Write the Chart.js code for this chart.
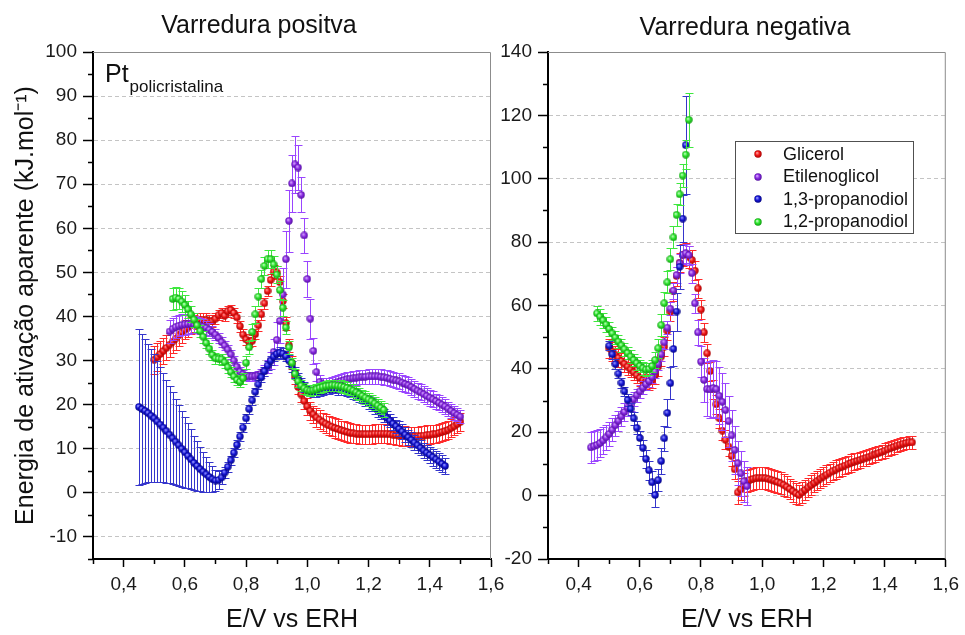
<!DOCTYPE html>
<html lang="pt">
<head>
<meta charset="utf-8">
<title>Energia de ativação aparente - Pt policristalina</title>
<script src="https://cdn.jsdelivr.net/npm/chart.js@4.4.1/dist/chart.umd.min.js"></script>
<style>
  html, body { margin: 0; padding: 0; background: #fff; }
  #wrap { position: relative; width: 965px; height: 635px; }
  #wrap canvas { position: absolute; left: 0; top: 0; }
</style>
</head>
<body>
<div id="wrap">
  <canvas id="positiva" width="965" height="635"></canvas>
  <canvas id="negativa" width="965" height="635"></canvas>
</div>
<script>
// Potential grid (E/V vs ERH), 10 mV steps
const potentials = [
  0.44, 0.45, 0.46, 0.47, 0.48, 0.49,
  0.50, 0.51, 0.52, 0.53, 0.54, 0.55, 0.56, 0.57, 0.58, 0.59,
  0.60, 0.61, 0.62, 0.63, 0.64, 0.65, 0.66, 0.67, 0.68, 0.69,
  0.70, 0.71, 0.72, 0.73, 0.74, 0.75, 0.76, 0.77, 0.78, 0.79,
  0.80, 0.81, 0.82, 0.83, 0.84, 0.85, 0.86, 0.87, 0.88, 0.89,
  0.90, 0.91, 0.92, 0.93, 0.94, 0.95, 0.96, 0.97, 0.98, 0.99,
  1.00, 1.01, 1.02, 1.03, 1.04, 1.05, 1.06, 1.07, 1.08, 1.09,
  1.10, 1.11, 1.12, 1.13, 1.14, 1.15, 1.16, 1.17, 1.18, 1.19,
  1.20, 1.21, 1.22, 1.23, 1.24, 1.25, 1.26, 1.27, 1.28, 1.29,
  1.30, 1.31, 1.32, 1.33, 1.34, 1.35, 1.36, 1.37, 1.38, 1.39,
  1.40, 1.41, 1.42, 1.43, 1.44, 1.45, 1.46, 1.47, 1.48, 1.49,
  1.50
];

const seriesLabels = ['Glicerol', 'Etilenoglicol', '1,3-propanodiol', '1,2-propanodiol'];

// ---- Varredura positiva (kJ/mol) ----
const posGlicerolStart = 0.50;
const posGlicerol = [
  30.2, 30.8, 31.5, 32.2, 32.9, 33.6, 34.3, 35.0, 35.7, 36.4,
  37.0, 37.5, 38.0, 38.5, 38.9, 39.2, 39.3, 39.2, 38.9, 39.0,
  39.5, 40.3, 40.8, 40.2, 41.2, 41.5, 40.8, 39.8, 37.8, 35.9,
  34.8, 34.2, 34.5, 36.0, 38.0, 40.5, 43.0, 45.8, 48.3, 50.2,
  50.0, 47.8, 43.5, 38.5, 33.5, 29.5, 26.3, 24.0, 22.3, 20.8,
  19.6, 18.6, 17.8, 17.1, 16.6, 16.1, 15.7, 15.3, 15.0, 14.7,
  14.5, 14.2, 14.0, 13.8, 13.6, 13.5, 13.4, 13.3, 13.3, 13.3,
  13.3, 13.3, 13.4, 13.4, 13.4, 13.4, 13.4, 13.3, 13.2, 13.1,
  13.0, 12.9, 12.9, 12.8, 12.8, 12.8, 12.8, 12.9, 13.0, 13.1,
  13.2, 13.3, 13.4, 13.6, 13.8, 14.0, 14.3, 14.7, 15.1, 15.6,
  16.1
];
const posGlicerolErr = [
  3.2, 3.1, 3.0, 2.9, 2.8, 2.7, 2.6, 2.5, 2.4, 2.3,
  2.2, 2.1, 2.0, 1.9, 1.8, 1.7, 1.6, 1.5, 1.4, 1.3,
  1.2, 1.2, 1.2, 1.2, 1.2, 1.2, 1.2, 1.2, 1.2, 1.2,
  1.2, 1.2, 1.2, 1.2, 1.2, 1.2, 1.2, 1.2, 1.3, 1.5,
  1.5, 1.5, 1.5, 1.5, 1.5, 1.5, 1.5, 1.6, 1.7, 1.8,
  1.9, 2.0, 2.0, 2.1, 2.1, 2.1, 2.2, 2.2, 2.2, 2.2,
  2.2, 2.2, 2.2, 2.2, 2.2, 2.2, 2.2, 2.2, 2.2, 2.2,
  2.2, 2.2, 2.2, 2.2, 2.2, 2.2, 2.2, 2.2, 2.2, 2.2,
  2.2, 2.2, 2.2, 2.2, 2.2, 2.2, 2.2, 2.2, 2.2, 2.2,
  2.1, 2.1, 2.1, 2.1, 2.0, 2.0, 2.0, 2.0, 2.0, 2.0,
  2.0
];

const posEtilenoglicolStart = 0.55;
const posEtilenoglicol = [
  36.6, 37.2, 37.6, 37.9, 38.1,
  38.2, 38.3, 38.3, 38.2, 38.1, 37.9, 37.7, 37.4, 37.0, 36.5,
  35.9, 35.1, 34.2, 33.4, 32.5, 31.4, 30.0, 28.6, 27.5, 26.9,
  26.5, 26.4, 26.4, 26.5, 26.7, 27.1, 27.7, 28.6, 30.0, 32.0,
  34.7, 39.0, 45.0, 53.0, 61.7, 70.2, 74.5, 73.8, 67.6, 58.4,
  48.5, 39.5, 32.2, 27.4, 25.2, 24.6, 24.5, 24.6, 24.8, 25.0,
  25.2, 25.4, 25.6, 25.8, 25.9, 26.0, 26.1, 26.2, 26.3, 26.3,
  26.4, 26.4, 26.4, 26.4, 26.3, 26.2, 26.1, 25.9, 25.7, 25.5,
  25.3, 25.0, 24.7, 24.4, 24.0, 23.6, 23.2, 22.8, 22.4, 22.0,
  21.6, 21.2, 20.8, 20.4, 20.0, 19.6, 19.1, 18.6, 18.1, 17.7,
  17.3
];
const posEtilenoglicolErr = [
  2.5, 2.5, 2.5, 2.4, 2.4,
  2.3, 2.2, 2.1, 2.0, 1.9, 1.8, 1.7, 1.6, 1.5, 1.4,
  1.3, 1.2, 1.1, 1.0, 1.0, 1.0, 1.0, 1.0, 1.0, 1.0,
  1.0, 1.0, 1.0, 1.0, 1.0, 1.0, 1.2, 1.5, 2.0, 3.0,
  4.0, 5.0, 6.0, 6.5, 7.0, 6.5, 6.5, 5.0, 4.0, 4.0,
  4.0, 4.5, 3.0, 2.0, 1.5, 1.5, 1.5, 1.5, 1.5, 1.5,
  1.6, 1.6, 1.6, 1.6, 1.6, 1.6, 1.6, 1.6, 1.6, 1.6,
  1.7, 1.7, 1.7, 1.7, 1.7, 1.7, 1.7, 1.7, 1.7, 1.7,
  1.8, 1.8, 1.8, 1.8, 1.8, 1.8, 1.8, 1.8, 1.8, 1.8,
  1.8, 1.8, 1.7, 1.7, 1.7, 1.6, 1.6, 1.6, 1.5, 1.5,
  1.5
];

const posPropanodiol13Start = 0.45;
const posPropanodiol13 = [
  19.5, 19.0, 18.6, 18.1, 17.5,
  16.9, 16.2, 15.5, 14.8, 14.0, 13.2, 12.4, 11.6, 10.8, 10.0,
  9.2, 8.4, 7.6, 6.8, 6.1, 5.4, 4.8, 4.2, 3.6, 3.1,
  2.8, 2.9, 3.5, 4.6, 5.9, 7.4, 9.1, 10.9, 12.8, 14.8,
  16.9, 19.0, 21.0, 22.9, 24.6, 26.2, 27.6, 28.9, 30.0, 30.9,
  31.5, 31.8, 31.6, 31.0, 30.0, 28.7, 27.3, 26.0, 24.9, 24.0,
  23.3, 22.9, 22.8, 22.8, 23.0, 23.2, 23.4, 23.5, 23.6, 23.6,
  23.5, 23.4, 23.3, 23.1, 22.9, 22.6, 22.3, 21.9, 21.5, 21.0,
  20.5, 20.0, 19.4, 18.8, 18.2, 17.6, 17.0, 16.4, 15.7, 15.1,
  14.5, 13.9, 13.2, 12.6, 12.0, 11.4, 10.8, 10.2, 9.6, 9.1,
  8.6, 8.1, 7.6, 7.1, 6.6, 6.1
];
const posPropanodiol13Err = [
  17.7, 17.0, 16.4, 15.7, 15.1,
  14.5, 13.8, 13.1, 12.4, 11.7, 11.0, 10.4, 9.8, 9.2, 8.6,
  8.0, 7.4, 6.8, 6.2, 5.6, 5.0, 4.5, 4.0, 3.5, 2.9,
  2.4, 2.0, 1.6, 1.3, 1.1, 1.0, 1.0, 1.0, 1.0, 1.0,
  1.0, 1.0, 1.0, 1.0, 1.0, 1.0, 1.0, 1.0, 1.0, 1.0,
  1.2, 1.2, 1.2, 1.2, 1.2, 1.2, 1.2, 1.2, 1.2, 1.2,
  1.0, 1.0, 1.0, 1.0, 1.0, 1.0, 1.0, 1.0, 1.0, 1.0,
  1.2, 1.2, 1.2, 1.2, 1.2, 1.2, 1.2, 1.2, 1.2, 1.2,
  1.5, 1.5, 1.5, 1.5, 1.5, 1.5, 1.5, 1.5, 1.5, 1.5,
  1.7, 1.7, 1.7, 1.7, 1.7, 1.7, 1.7, 1.7, 1.7, 1.7,
  1.9, 1.9, 1.9, 1.9, 1.9, 1.9
];

const posPropanodiol12Start = 0.56;
const posPropanodiol12 = [
  44.0, 44.3, 44.0, 43.4,
  42.6, 41.6, 40.5, 39.3, 38.0, 36.7, 35.4, 34.0, 32.7, 31.3,
  30.5, 30.4, 30.3, 29.6, 28.5, 27.4, 26.4, 25.6, 25.2, 26.0,
  29.5, 33.0, 36.5, 40.5, 44.5, 48.5, 51.5, 53.0, 53.0, 51.8,
  49.5, 46.0, 42.0, 37.5, 33.0, 29.5, 27.0, 25.3, 24.3, 23.7,
  23.3, 23.2, 23.3, 23.5, 23.8, 24.0, 24.2, 24.3, 24.4, 24.4,
  24.3, 24.2, 24.0, 23.8, 23.5, 23.2, 22.8, 22.4, 22.0, 21.6,
  21.2, 20.8, 20.3, 19.8, 19.3, 18.8
];
const posPropanodiol12Err = [
  2.5, 2.5, 2.4, 2.3,
  2.2, 2.0, 1.8, 1.6, 1.5, 1.4, 1.3, 1.2, 1.2, 1.2,
  1.2, 1.2, 1.2, 1.2, 1.2, 1.2, 1.2, 1.2, 1.2, 1.2,
  1.5, 1.5, 1.8, 2.0, 2.0, 2.0, 2.0, 2.0, 2.0, 2.0,
  2.0, 2.0, 1.8, 1.5, 1.5, 1.2, 1.2, 1.2, 1.2, 1.2,
  1.2, 1.2, 1.2, 1.2, 1.2, 1.2, 1.2, 1.2, 1.2, 1.2,
  1.3, 1.3, 1.3, 1.3, 1.3, 1.4, 1.4, 1.4, 1.4, 1.4,
  1.5, 1.5, 1.5, 1.5, 1.5, 1.5
];

// ---- Varredura negativa (kJ/mol) ----
const negGlicerolStart = 0.50;
const negGlicerol = [
  46.5, 45.5, 44.5, 43.5, 42.5, 41.6, 40.7, 39.8, 38.9, 38.0,
  37.1, 36.4, 36.0, 35.9, 36.4, 38.0, 40.7, 43.9, 47.0, 52.0,
  58.0, 64.5, 69.3, 73.5, 76.0, 76.3, 75.4, 74.4, 71.0, 65.4,
  58.7, 51.5, 44.9, 39.3, 33.5, 28.8, 24.4, 20.5, 17.6, 15.5,
  12.5, 8.3, 1.0, 2.0, 3.5, 4.5, 5.0, 5.3, 5.5, 5.6,
  5.6, 5.5, 5.3, 5.0, 4.7, 4.3, 3.9, 3.4, 2.8, 2.1,
  1.4, 0.7, 0.2, 1.0, 1.8, 2.6, 3.3, 4.0, 4.7, 5.4,
  6.0, 6.6, 7.2, 7.7, 8.2, 8.7, 9.1, 9.5, 9.9, 10.3,
  10.7, 11.0, 11.3, 11.7, 12.0, 12.3, 12.7, 13.0, 13.4, 13.8,
  14.2, 14.6, 15.0, 15.4, 15.8, 16.1, 16.4, 16.6, 16.8, 16.8
];
const negGlicerolErr = [
  3.0, 3.0, 2.8, 2.8, 2.6, 2.6, 2.5, 2.5, 2.5, 2.5,
  2.5, 2.5, 2.5, 2.5, 2.5, 2.8, 3.0, 3.0, 3.0, 3.0,
  3.0, 3.0, 3.0, 3.0, 3.5, 3.5, 3.5, 3.0, 3.0, 3.0,
  3.0, 3.0, 3.0, 3.0, 3.0, 3.0, 3.0, 3.0, 3.0, 3.0,
  3.0, 3.0, 3.5, 3.5, 3.5, 3.5, 3.5, 3.5, 3.5, 3.5,
  3.5, 3.5, 3.5, 3.5, 3.5, 3.4, 3.4, 3.4, 3.3, 3.3,
  3.3, 3.2, 3.2, 3.2, 3.1, 3.1, 3.1, 3.0, 3.0, 3.0,
  3.0, 3.0, 2.9, 2.9, 2.9, 2.8, 2.8, 2.8, 2.7, 2.7,
  2.6, 2.6, 2.5, 2.5, 2.5, 2.4, 2.4, 2.4, 2.3, 2.3,
  2.3, 2.2, 2.2, 2.2, 2.1, 2.1, 2.1, 2.0, 2.0, 2.0
];

const negEtilenoglicolStart = 0.44;
const negEtilenoglicol = [
  15.2, 15.6, 16.0, 16.6, 17.4, 18.4,
  19.5, 20.8, 22.2, 23.6, 25.0, 26.4, 27.8, 29.1, 30.4, 31.7,
  32.9, 34.1, 35.2, 36.2, 37.4, 39.2, 41.6, 44.6, 48.4, 53.0,
  59.0, 64.7, 69.6, 73.3, 76.0, 76.5, 75.9, 70.2, 60.7, 51.5,
  42.3, 36.5, 33.6, 33.5, 33.9, 33.6, 31.5, 29.6, 27.0, 23.5,
  19.0, 14.4, 10.2, 7.0, 4.5, 3.0
];
const negEtilenoglicolErr = [
  5.0, 4.8, 4.6, 4.4, 4.2, 4.0,
  3.8, 3.6, 3.4, 3.2, 3.0, 2.8, 2.6, 2.4, 2.2, 2.0,
  2.0, 2.0, 2.0, 2.0, 2.0, 2.0, 2.0, 2.0, 2.0, 2.0,
  2.0, 2.5, 2.5, 3.0, 3.0, 3.0, 3.0, 3.0, 3.0, 4.0,
  5.0, 7.0, 8.5, 9.0, 9.0, 9.0, 9.0, 9.0, 8.5, 8.0,
  8.0, 7.5, 7.0, 7.0, 6.5, 6.0
];

const negPropanodiol13Start = 0.50;
const negPropanodiol13 = [
  47.3, 44.6, 41.5, 38.5, 35.6, 32.9, 30.2, 27.4, 24.4, 21.4,
  18.2, 15.1, 11.6, 8.0, 4.2, 0.2, 4.9, 10.9, 18.1, 26.1,
  35.5, 46.3, 58.1, 72.2, 87.4, 110.6
];
const negPropanodiol13Err = [
  1.5, 1.5, 1.5, 1.5, 1.5, 1.5, 1.8, 1.8, 2.0, 2.0,
  2.2, 2.5, 2.8, 3.0, 3.5, 3.8, 3.5, 4.0, 4.0, 4.5,
  5.0, 5.5, 6.0, 7.0, 7.5, 15.5
];

const negPropanodiol12Start = 0.46;
const negPropanodiol12 = [
  57.5, 56.5, 55.3, 54.0, 52.6, 51.2, 49.9, 48.6, 47.4, 46.2,
  45.0, 43.9, 42.8, 41.8, 40.9, 40.2, 39.8, 40.0, 40.9, 42.8,
  46.5, 53.8, 60.7, 67.3, 74.6, 81.5, 88.6, 95.1, 101.0, 107.6,
  118.6
];
const negPropanodiol12Err = [
  2.5, 2.5, 2.4, 2.3, 2.2, 2.1, 2.0, 2.0, 2.0, 2.0,
  2.0, 2.0, 2.0, 2.0, 2.0, 2.0, 2.0, 2.0, 2.0, 2.5,
  3.0, 3.5, 3.5, 3.5, 3.5, 3.5, 3.5, 3.5, 3.7, 4.5,
  8.6
];

// ---- styles ----
const FONT = "'Liberation Sans', Arial, Helvetica, sans-serif";
Chart.defaults.font.family = FONT;
Chart.defaults.color = '#1a1a1a';

// small shaded balls used as point markers
function makeBall(light, base, dark) {
  const c = document.createElement('canvas');
  c.width = 8;
  c.height = 8;
  const g = c.getContext('2d');
  const grad = g.createRadialGradient(3, 2.8, 0.3, 4, 4, 4);
  grad.addColorStop(0, light);
  grad.addColorStop(0.45, base);
  grad.addColorStop(1, dark);
  g.fillStyle = grad;
  g.beginPath();
  g.arc(4, 4, 3.7, 0, Math.PI * 2);
  g.fill();
  return c;
}

const styles = [
  { ball: makeBall('#ff9a9a', '#f21818', '#a00000'), bar: '#ff2a2a', order: 4 },
  { ball: makeBall('#d7a8ff', '#8a2be2', '#4e0c9a'), bar: '#9a45ff', order: 3 },
  { ball: makeBall('#9a9aff', '#1818d8', '#00007a'), bar: '#3535cc', order: 2 },
  { ball: makeBall('#c8ffc8', '#2ee62e', '#0c920c'), bar: '#3ee83e', order: 1 }
];

function toPoints(start, values) {
  const i0 = potentials.findIndex(e => Math.abs(e - start) < 1e-9);
  return values.map((y, i) => ({ x: potentials[i0 + i], y }));
}

function scatterSet(k, start, values, errors) {
  return {
    label: seriesLabels[k],
    data: toPoints(start, values),
    errors: errors,
    errorColor: styles[k].bar,
    pointStyle: styles[k].ball,
    order: styles[k].order,
    showLine: false
  };
}

// error bars, minor ticks, frame, titles and legend
const panelDecor = {
  id: 'panelDecor',
  beforeDatasetDraw(chart, args) {
    const ds = chart.data.datasets[args.index];
    if (!ds.errors) return;
    const { ctx, chartArea } = chart;
    const yScale = chart.scales.y;
    ctx.save();
    ctx.beginPath();
    ctx.rect(chartArea.left, chartArea.top, chartArea.width, chartArea.height);
    ctx.clip();
    ctx.strokeStyle = ds.errorColor;
    ctx.lineWidth = 1;
    ctx.beginPath();
    args.meta.data.forEach((pt, i) => {
      const v = ds.data[i].y;
      const e = ds.errors[i];
      const x = Math.round(pt.x) + 0.5;
      const yTop = Math.round(yScale.getPixelForValue(v + e)) + 0.5;
      const yBot = Math.round(yScale.getPixelForValue(v - e)) + 0.5;
      ctx.moveTo(x, yTop);
      ctx.lineTo(x, yBot);
      ctx.moveTo(x - 4, yTop);
      ctx.lineTo(x + 4, yTop);
      ctx.moveTo(x - 4, yBot);
      ctx.lineTo(x + 4, yBot);
    });
    ctx.stroke();
    ctx.restore();
  },
  afterDraw(chart, args, opts) {
    const { ctx, chartArea } = chart;
    const { left, right, top, bottom } = chartArea;
    ctx.save();

    // top and right frame
    ctx.strokeStyle = '#8c8c8c';
    ctx.lineWidth = 1;
    ctx.beginPath();
    ctx.moveTo(left, top + 0.5);
    ctx.lineTo(right - 0.5, top + 0.5);
    ctx.lineTo(right - 0.5, bottom);
    ctx.stroke();

    // minor ticks (unlabelled)
    ctx.strokeStyle = '#000';
    ctx.lineWidth = 1.5;
    ctx.beginPath();
    chart.scales.x.ticks.forEach(t => {
      if (t.label !== '') return;
      const px = Math.round(chart.scales.x.getPixelForValue(t.value)) + 0.5;
      ctx.moveTo(px, bottom);
      ctx.lineTo(px, bottom + 5);
    });
    chart.scales.y.ticks.forEach(t => {
      if (t.label !== '') return;
      const py = Math.round(chart.scales.y.getPixelForValue(t.value)) + 0.5;
      ctx.moveTo(left, py);
      ctx.lineTo(left - 5, py);
    });
    ctx.stroke();

    // panel title
    ctx.fillStyle = '#111';
    ctx.textAlign = 'center';
    ctx.textBaseline = 'alphabetic';
    ctx.font = '25px ' + FONT;
    ctx.fillText(opts.title, opts.titleX, opts.titleY);

    // electrode label with subscript
    if (opts.note) {
      ctx.textAlign = 'left';
      ctx.font = '25px ' + FONT;
      ctx.fillText(opts.note[0], opts.noteX, opts.noteY);
      const w = ctx.measureText(opts.note[0]).width;
      ctx.font = '17px ' + FONT;
      ctx.fillText(opts.note[1], opts.noteX + w + 1, opts.noteY + 10);
    }

    // legend box
    if (opts.legend) {
      const L = opts.legend;
      ctx.fillStyle = '#fff';
      ctx.fillRect(L.x, L.y, L.w, L.h);
      ctx.strokeStyle = '#505050';
      ctx.lineWidth = 1;
      ctx.strokeRect(L.x + 0.5, L.y + 0.5, L.w, L.h);
      ctx.font = '18px ' + FONT;
      ctx.textAlign = 'left';
      ctx.textBaseline = 'middle';
      ctx.fillStyle = '#111';
      chart.data.datasets.forEach((ds, i) => {
        const cy = L.y + L.first + i * L.row;
        ctx.drawImage(ds.pointStyle, L.x + 19, Math.round(cy) - 4);
        ctx.fillText(ds.label, L.x + 48, cy + 1);
      });
    }
    ctx.restore();
  }
};

function xAxis() {
  return {
    type: 'linear',
    min: 0.3,
    max: 1.6,
    afterFit(scale) { scale.height = 76; },
    border: { display: true, color: '#000', width: 2 },
    grid: {
      drawOnChartArea: false,
      drawTicks: true,
      tickLength: 8,
      tickWidth: 1.5,
      tickColor: c => (Math.round(c.tick.value * 10) % 2 === 0 ? '#000' : 'rgba(0,0,0,0)')
    },
    ticks: {
      stepSize: 0.1,
      autoSkip: false,
      maxRotation: 0,
      padding: 6,
      font: { size: 19 },
      color: '#1a1a1a',
      callback: v => {
        const k = Math.round(v * 10);
        return k % 2 === 0 ? (k / 10).toFixed(1).replace('.', ',') : '';
      }
    },
    title: {
      display: true,
      text: 'E/V vs ERH',
      font: { size: 25 },
      color: '#111',
      padding: { top: 0, bottom: 0 }
    }
  };
}

function yAxis(min, max, minor, major, width, title) {
  const isMajor = v => Math.abs(v % major) < 1e-6;
  return {
    type: 'linear',
    min: min,
    max: max,
    afterFit(scale) { scale.width = width; },
    border: { display: true, color: '#000', width: 2, dash: [4, 3] },
    grid: {
      drawTicks: true,
      tickLength: 10,
      tickWidth: 1.5,
      tickBorderDash: [],
      lineWidth: 1,
      color: c => (isMajor(c.tick.value) && c.tick.value !== min ? '#c4c4c4' : 'rgba(0,0,0,0)'),
      tickColor: c => (isMajor(c.tick.value) ? '#000' : 'rgba(0,0,0,0)')
    },
    ticks: {
      stepSize: minor,
      autoSkip: false,
      padding: 6,
      font: { size: 19 },
      color: '#1a1a1a',
      callback: v => (isMajor(v) ? String(Math.round(v)) : '')
    },
    title: {
      display: !!title,
      text: title || '',
      font: { size: 25 },
      color: '#111',
      padding: { top: 11, bottom: 0 }
    }
  };
}

const baseOptions = {
  responsive: false,
  animation: false,
  events: [],
  plugins: { legend: { display: false }, tooltip: { enabled: false } }
};

// Left panel: positive sweep
new Chart(document.getElementById('positiva'), {
  type: 'scatter',
  data: {
    datasets: [
      scatterSet(0, posGlicerolStart, posGlicerol, posGlicerolErr),
      scatterSet(1, posEtilenoglicolStart, posEtilenoglicol, posEtilenoglicolErr),
      scatterSet(2, posPropanodiol13Start, posPropanodiol13, posPropanodiol13Err),
      scatterSet(3, posPropanodiol12Start, posPropanodiol12, posPropanodiol12Err)
    ]
  },
  options: {
    ...baseOptions,
    layout: { padding: { left: 0, top: 52, right: 474, bottom: 0 } },
    scales: {
      x: xAxis(),
      y: yAxis(-15, 100, 5, 10, 93, 'Energia de ativação aparente (kJ.mol⁻¹)')
    },
    plugins: {
      ...baseOptions.plugins,
      panelDecor: {
        title: 'Varredura positva', titleX: 259, titleY: 33,
        note: ['Pt', 'policristalina'], noteX: 105, noteY: 82
      }
    }
  },
  plugins: [panelDecor]
});

// Right panel: negative sweep
new Chart(document.getElementById('negativa'), {
  type: 'scatter',
  data: {
    datasets: [
      scatterSet(0, negGlicerolStart, negGlicerol, negGlicerolErr),
      scatterSet(1, negEtilenoglicolStart, negEtilenoglicol, negEtilenoglicolErr),
      scatterSet(2, negPropanodiol13Start, negPropanodiol13, negPropanodiol13Err),
      scatterSet(3, negPropanodiol12Start, negPropanodiol12, negPropanodiol12Err)
    ]
  },
  options: {
    ...baseOptions,
    layout: { padding: { left: 493, top: 52, right: 19, bottom: 0 } },
    scales: {
      x: xAxis(),
      y: yAxis(-20, 140, 10, 20, 55, null)
    },
    plugins: {
      ...baseOptions.plugins,
      panelDecor: {
        title: 'Varredura negativa', titleX: 745, titleY: 35,
        legend: { x: 735, y: 141, w: 178, h: 92, first: 13, row: 22.5 }
      }
    }
  },
  plugins: [panelDecor]
});
</script>
</body>
</html>
